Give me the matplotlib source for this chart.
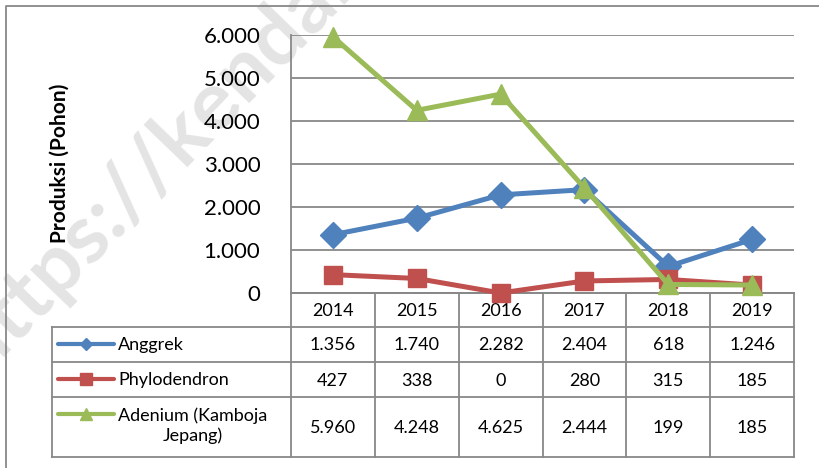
import matplotlib.pyplot as plt
import numpy as np

plt.rcParams['font.family'] = ['Lato', 'DejaVu Sans']

# data
tahun = ['2014', '2015', '2016', '2017', '2018', '2019']
anggrek = [1356, 1740, 2282, 2404, 618, 1246]
phylodendron = [427, 338, 0, 280, 315, 185]
adenium = [5960, 4248, 4625, 2444, 199, 185]

seri = ['Anggrek', 'Phylodendron', 'Adenium (Kamboja\nJepang)']
nilai = [anggrek, phylodendron, adenium]
warna = ['#4F81BD', '#C0504D', '#9BBB59']
marker = ['D', 's', '^']
msize = [13, 13.5, 14]


def fmt(v):
    return f"{v:,}".replace(',', '.')


W, H = 819, 468
fig = plt.figure(figsize=(W / 100, H / 100), dpi=100)

# background layer in pixel coords: border, watermark, data table
bg = fig.add_axes([0, 0, 1, 1], zorder=0)
bg.set_xlim(0, W)
bg.set_ylim(H, 0)
bg.axis('off')

grid_c = '#888888'
bg.plot([6, 6, W + 5], [H + 5, 6, 6], color=grid_c, lw=1.3, clip_on=False)

# watermark (cut by the top edge, as in the source image)
bg.text(-36, 360, 'https://kendal', rotation=46, rotation_mode='anchor',
        ha='left', va='center', fontsize=60, fontweight='bold',
        color='#e4e4e4', zorder=-5)

# plot area
x0, x1 = 291, 794
top, bot = 35, 293
ax = fig.add_axes([x0 / W, 1 - bot / H, (x1 - x0) / W, (bot - top) / H], zorder=2)
ax.patch.set_alpha(0)
xs = np.arange(len(tahun))
for i in range(3):
    ax.plot(xs, nilai[i], color=warna[i], lw=3.6, marker=marker[i],
            markersize=msize[i], clip_on=False, zorder=3 + (i == 2))
ax.set_xlim(-0.5, len(tahun) - 0.5)
ax.set_ylim(0, 6000)
ax.set_yticks(range(0, 6001, 1000))
ax.set_yticklabels([fmt(v) for v in range(0, 6001, 1000)], fontsize=16)
ax.set_xticks([])
ax.tick_params(axis='y', length=0, pad=22)
ax.grid(axis='y', color=grid_c, lw=1.3)
ax.set_axisbelow(True)
for s in ['top', 'right']:
    ax.spines[s].set_visible(False)
for s in ['left', 'bottom']:
    ax.spines[s].set_color(grid_c)
    ax.spines[s].set_linewidth(1.3)

fig.text(60 / W, 1 - 163 / H, 'Produksi (Pohon)', rotation=90, ha='center', va='center',
         fontsize=15, fontweight='bold')

# data table
kol = np.linspace(x0, x1, len(tahun) + 1)
baris = [293, 327, 362, 397, 457]
tab_l = 52
lw_t = 1.3
for xk in kol:
    bg.plot([xk, xk], [baris[0], baris[-1]], color=grid_c, lw=lw_t)
bg.plot([tab_l, tab_l], [baris[1], baris[-1]], color=grid_c, lw=lw_t)
bg.plot([x0, x1], [baris[0], baris[0]], color=grid_c, lw=lw_t)
for yb in baris[1:]:
    bg.plot([tab_l, x1], [yb, yb], color=grid_c, lw=lw_t)

for j, t in enumerate(tahun):
    cx = (kol[j] + kol[j + 1]) / 2
    bg.text(cx, (baris[0] + baris[1]) / 2 + 1, t, ha='center', va='center', fontsize=13)
    for i in range(3):
        cy = (baris[i + 1] + baris[i + 2]) / 2 + 1
        bg.text(cx, cy, fmt(nilai[i][j]), ha='center', va='center', fontsize=13)

leg_m = [6, 8, 8]
for i in range(3):
    cy = baris[i + 1] + 17
    bg.plot([58, 114], [cy, cy], color=warna[i], lw=3, solid_capstyle='round')
    bg.plot([86], [cy], color=warna[i], marker=marker[i], markersize=leg_m[i])
    if i < 2:
        bg.text(118, cy + 1, seri[i], ha='left', va='center', fontsize=13)
    else:
        bg.text(118, cy - 7, seri[i], ha='left', va='top', fontsize=13,
                multialignment='center', linespacing=1.25)

fig.savefig('out.png', dpi=100)
